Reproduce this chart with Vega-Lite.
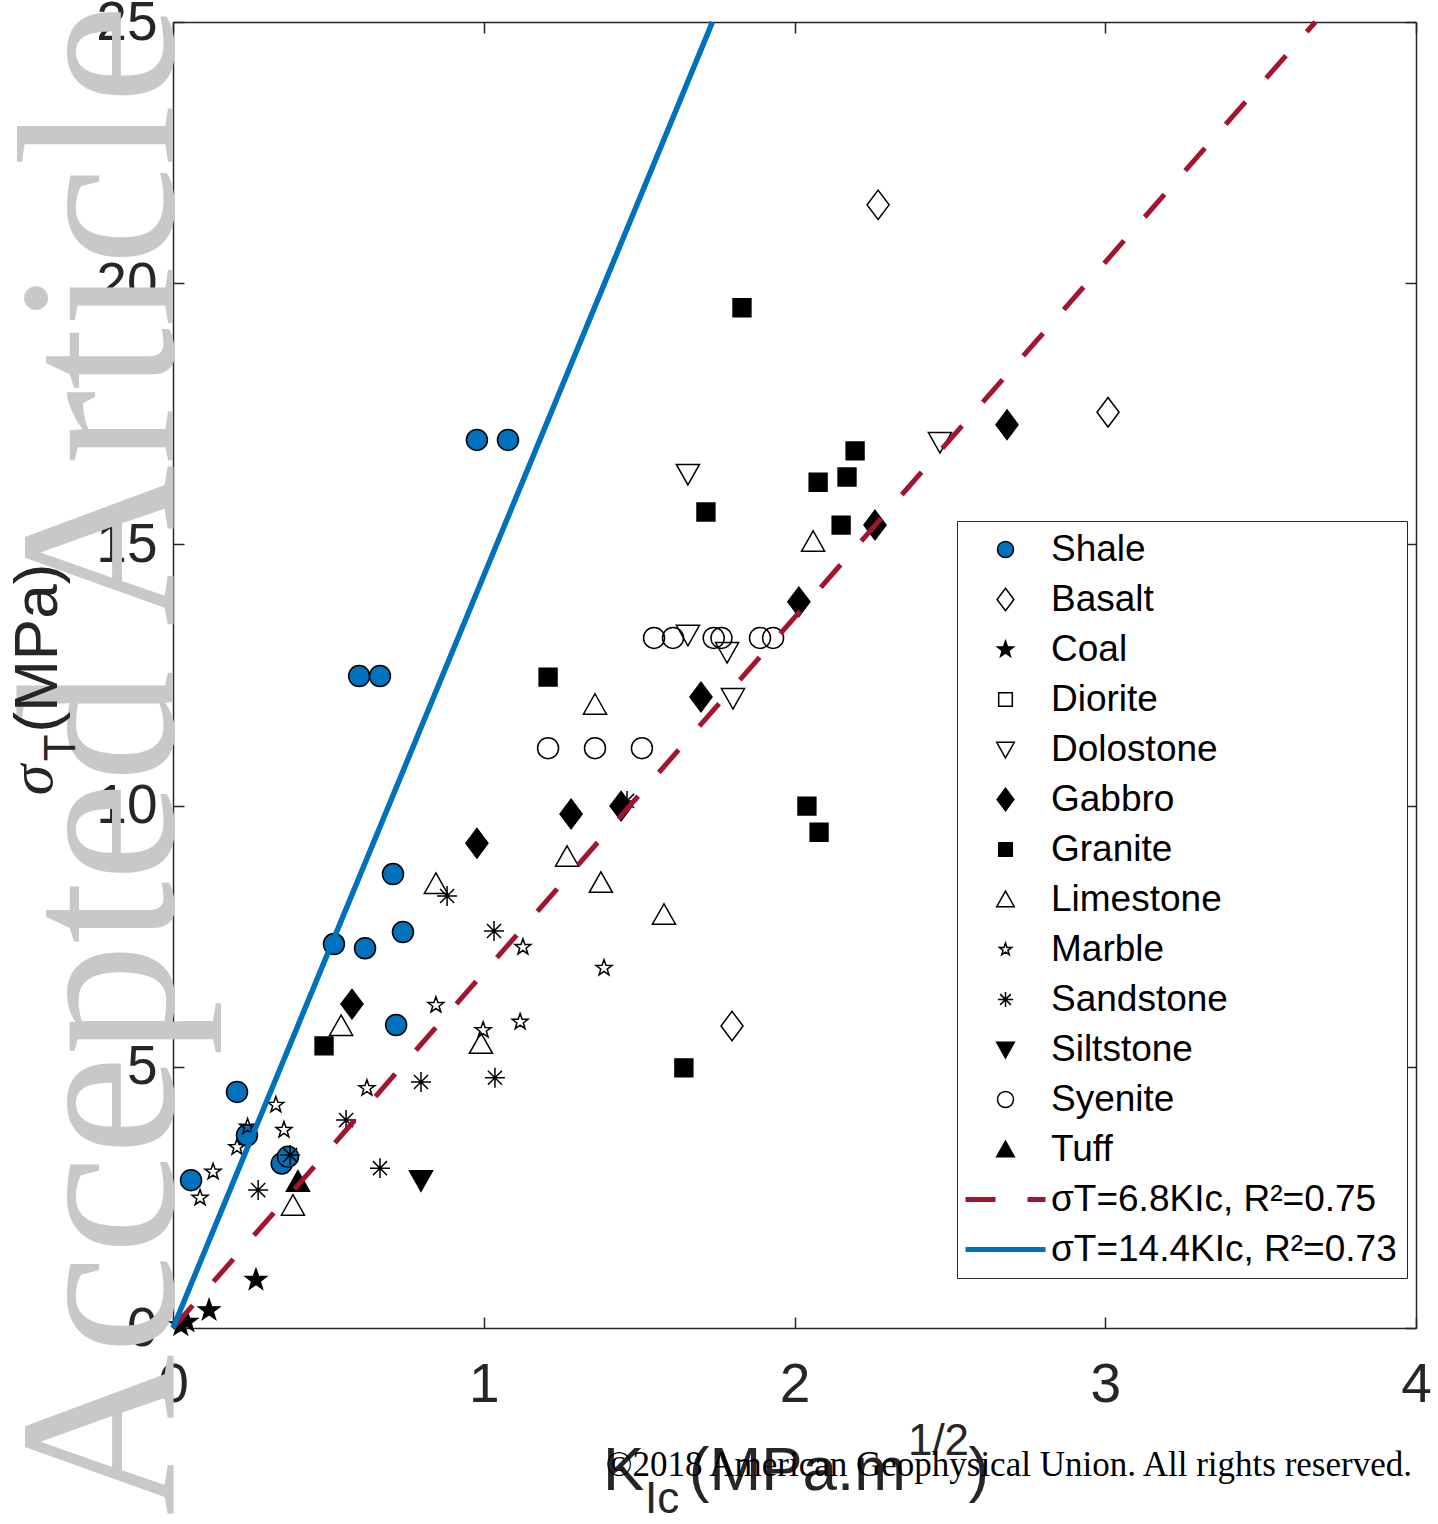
{
  "$schema": "https://vega.github.io/schema/vega-lite/v6.json",
  "width": 1243,
  "height": 1306,
  "autosize": {"type": "none"},
  "padding": {"left": 173, "top": 22, "right": 22, "bottom": 196},
  "background": "white",
  "config": {
    "view": {"stroke": null},
    "axis": {
      "domainColor": "#262626", "domainWidth": 1.5,
      "tickColor": "#262626", "tickWidth": 1.5, "tickSize": -11,
      "grid": false,
      "labelFont": "Liberation Sans", "labelFontSize": 55, "labelColor": "#262626",
      "labelFlush": false, "labelOverlap": false, "labelBound": false
    },
    "axisBottom": {"labelPadding": 41},
    "axisLeft": {"labelPadding": 27},
    "axisTop": {"labels": false},
    "axisRight": {"labels": false}
  },
  "datasets": {
    "pts": [
      {"type": "Shale", "k": 0.978, "s": 17.0},
      {"type": "Shale", "k": 1.078, "s": 17.0},
      {"type": "Shale", "k": 0.599, "s": 12.48},
      {"type": "Shale", "k": 0.666, "s": 12.48},
      {"type": "Shale", "k": 0.708, "s": 8.69},
      {"type": "Shale", "k": 0.518, "s": 7.35},
      {"type": "Shale", "k": 0.618, "s": 7.27},
      {"type": "Shale", "k": 0.740, "s": 7.58},
      {"type": "Shale", "k": 0.718, "s": 5.80},
      {"type": "Shale", "k": 0.206, "s": 4.52},
      {"type": "Shale", "k": 0.238, "s": 3.69},
      {"type": "Shale", "k": 0.350, "s": 3.15},
      {"type": "Shale", "k": 0.370, "s": 3.28},
      {"type": "Shale", "k": 0.058, "s": 2.83},
      {"type": "Basalt", "k": 2.269, "s": 21.50},
      {"type": "Basalt", "k": 3.009, "s": 17.53},
      {"type": "Basalt", "k": 1.799, "s": 5.78},
      {"type": "Coal", "k": 0.267, "s": 0.92},
      {"type": "Coal", "k": 0.116, "s": 0.34},
      {"type": "Coal", "k": 0.045, "s": 0.12},
      {"type": "Coal", "k": 0.025, "s": 0.05},
      {"type": "Dolostone", "k": 1.657, "s": 16.35},
      {"type": "Dolostone", "k": 1.657, "s": 13.27},
      {"type": "Dolostone", "k": 1.783, "s": 12.94},
      {"type": "Dolostone", "k": 1.802, "s": 12.06},
      {"type": "Dolostone", "k": 2.468, "s": 16.96},
      {"type": "Gabbro", "k": 2.684, "s": 17.29},
      {"type": "Gabbro", "k": 2.259, "s": 15.37},
      {"type": "Gabbro", "k": 2.014, "s": 13.90},
      {"type": "Gabbro", "k": 1.699, "s": 12.08},
      {"type": "Gabbro", "k": 1.281, "s": 9.84},
      {"type": "Gabbro", "k": 1.442, "s": 9.99},
      {"type": "Gabbro", "k": 0.978, "s": 9.28},
      {"type": "Gabbro", "k": 0.576, "s": 6.20},
      {"type": "Granite", "k": 1.831, "s": 19.53},
      {"type": "Granite", "k": 2.195, "s": 16.79},
      {"type": "Granite", "k": 2.169, "s": 16.29},
      {"type": "Granite", "k": 2.076, "s": 16.19},
      {"type": "Granite", "k": 2.150, "s": 15.37},
      {"type": "Granite", "k": 1.715, "s": 15.62},
      {"type": "Granite", "k": 1.207, "s": 12.46},
      {"type": "Granite", "k": 2.040, "s": 9.99},
      {"type": "Granite", "k": 2.079, "s": 9.49},
      {"type": "Granite", "k": 1.644, "s": 4.98},
      {"type": "Granite", "k": 0.486, "s": 5.40},
      {"type": "Limestone", "k": 2.060, "s": 15.05},
      {"type": "Limestone", "k": 1.358, "s": 11.93},
      {"type": "Limestone", "k": 1.268, "s": 9.02},
      {"type": "Limestone", "k": 1.377, "s": 8.52},
      {"type": "Limestone", "k": 1.580, "s": 7.91},
      {"type": "Limestone", "k": 0.846, "s": 8.50},
      {"type": "Limestone", "k": 0.541, "s": 5.78},
      {"type": "Limestone", "k": 0.991, "s": 5.44},
      {"type": "Limestone", "k": 0.386, "s": 2.34},
      {"type": "Marble", "k": 1.126, "s": 7.29},
      {"type": "Marble", "k": 1.387, "s": 6.89},
      {"type": "Marble", "k": 0.846, "s": 6.18},
      {"type": "Marble", "k": 0.998, "s": 5.70},
      {"type": "Marble", "k": 1.117, "s": 5.86},
      {"type": "Marble", "k": 0.624, "s": 4.59},
      {"type": "Marble", "k": 0.331, "s": 4.27},
      {"type": "Marble", "k": 0.357, "s": 3.79},
      {"type": "Marble", "k": 0.206, "s": 3.46},
      {"type": "Marble", "k": 0.129, "s": 2.99},
      {"type": "Marble", "k": 0.087, "s": 2.49},
      {"type": "Marble", "k": 0.240, "s": 3.85},
      {"type": "Sandstone", "k": 0.882, "s": 8.27},
      {"type": "Sandstone", "k": 1.033, "s": 7.60},
      {"type": "Sandstone", "k": 1.461, "s": 10.09},
      {"type": "Sandstone", "k": 0.798, "s": 4.71},
      {"type": "Sandstone", "k": 1.036, "s": 4.79},
      {"type": "Sandstone", "k": 0.557, "s": 3.98},
      {"type": "Sandstone", "k": 0.666, "s": 3.06},
      {"type": "Sandstone", "k": 0.274, "s": 2.64},
      {"type": "Sandstone", "k": 0.377, "s": 3.31},
      {"type": "Siltstone", "k": 0.798, "s": 2.83},
      {"type": "Syenite", "k": 1.548, "s": 13.21},
      {"type": "Syenite", "k": 1.609, "s": 13.21},
      {"type": "Syenite", "k": 1.740, "s": 13.21},
      {"type": "Syenite", "k": 1.765, "s": 13.21},
      {"type": "Syenite", "k": 1.889, "s": 13.21},
      {"type": "Syenite", "k": 1.931, "s": 13.21},
      {"type": "Syenite", "k": 1.207, "s": 11.10},
      {"type": "Syenite", "k": 1.358, "s": 11.10},
      {"type": "Syenite", "k": 1.509, "s": 11.10},
      {"type": "Tuff", "k": 0.402, "s": 2.80}
    ],
    "redfit": [{"k": 0, "s": 0}, {"k": 3.676, "s": 25}],
    "bluefit": [{"k": 0, "s": 0}, {"k": 1.736, "s": 25}]
  },
  "layer": [
    {
      "layer": [
        {
          "data": {"values": [{"t": "Accepted Article"}]},
          "mark": {"type": "text", "font": "Liberation Serif", "fontSize": 224, "color": "#C8C8C8", "angle": 270, "align": "center", "baseline": "alphabetic"},
          "encoding": {
            "x": {"datum": 0.0, "type": "quantitative", "scale": {"domain": [0, 4]}, "title": null},
            "y": {"datum": 10.87, "type": "quantitative", "scale": {"domain": [0, 25]}, "title": null},
            "text": {"field": "t"}
          }
        },
        {
          "data": {"name": "pts"},
          "mark": {"type": "point", "size": 441, "strokeWidth": 1.5, "opacity": 1},
          "encoding": {
            "x": {"field": "k", "type": "quantitative", "scale": {"domain": [0, 4]}, "axis": {"values": [0, 1, 2, 3, 4], "format": "d"}, "title": null},
            "y": {"field": "s", "type": "quantitative", "scale": {"domain": [0, 25]}, "axis": {"values": [0, 5, 10, 15, 20, 25], "format": "d"}, "title": null},
            "shape": {
              "field": "type", "type": "nominal",
              "scale": {
                "domain": ["Shale", "Basalt", "Coal", "Diorite", "Dolostone", "Gabbro", "Granite", "Limestone", "Marble", "Sandstone", "Siltstone", "Syenite", "Tuff", "σT=6.8KIc, R²=0.75", "σT=14.4KIc, R²=0.73"],
                "range": [
                  "circle",
                  "M0,-1.4L1.05,0L0,1.4L-1.05,0Z",
                  "M0,-1.05L0.247,-0.34L0.999,-0.324L0.399,0.13L0.617,0.849L0,0.42L-0.617,0.849L-0.399,0.13L-0.999,-0.324L-0.247,-0.34Z",
                  "M-0.85,-0.85H0.85V0.85H-0.85Z",
                  "M0,1.05L1.1,-0.9L-1.1,-0.9Z",
                  "M0,-1.4L1.05,0L0,1.4L-1.05,0Z",
                  "M-0.85,-0.85H0.85V0.85H-0.85Z",
                  "M0,-1.05L1.1,0.9L-1.1,0.9Z",
                  "M0,-0.8L0.188,-0.259L0.761,-0.247L0.304,0.099L0.47,0.647L0,0.32L-0.47,0.647L-0.304,0.099L-0.761,-0.247L-0.188,-0.259Z",
                  "M0,-0.95V0.95M-0.95,0H0.95M-0.67,-0.67L0.67,0.67M-0.67,0.67L0.67,-0.67",
                  "M0,1.05L1.1,-0.9L-1.1,-0.9Z",
                  "circle",
                  "M0,-1.05L1.1,0.9L-1.1,0.9Z",
                  "M-5,-0.3H-1.25V0.3H-5Z M2.75,-0.3H5V0.3H2.75Z",
                  "M-5,-0.3H5V0.3H-5Z"
                ]
              },
              "legend": {"title": null, "orient": "none", "legendX": 784, "legendY": 499, "labelFont": "Liberation Sans", "labelFontSize": 37, "labelColor": "black", "symbolSize": 256, "symbolStrokeWidth": 1.5, "padding": 10, "strokeColor": "#262626", "fillColor": "white", "rowPadding": 12, "labelOffset": 27, "symbolOffset": 20, "labelLimit": 1000}
            },
            "fill": {
              "field": "type", "type": "nominal",
              "scale": {
                "domain": ["Shale", "Basalt", "Coal", "Diorite", "Dolostone", "Gabbro", "Granite", "Limestone", "Marble", "Sandstone", "Siltstone", "Syenite", "Tuff", "σT=6.8KIc, R²=0.75", "σT=14.4KIc, R²=0.73"],
                "range": ["#0072BD", "transparent", "black", "transparent", "transparent", "black", "black", "transparent", "transparent", "transparent", "black", "transparent", "black", "#A2142F", "#0072BD"]
              },
              "legend": {"title": null, "orient": "none", "legendX": 784, "legendY": 499, "labelFont": "Liberation Sans", "labelFontSize": 37, "labelColor": "black", "symbolSize": 256, "symbolStrokeWidth": 1.5, "padding": 10, "strokeColor": "#262626", "fillColor": "white", "rowPadding": 12, "labelOffset": 27, "symbolOffset": 20, "labelLimit": 1000}
            },
            "stroke": {
              "field": "type", "type": "nominal",
              "scale": {
                "domain": ["Shale", "Basalt", "Coal", "Diorite", "Dolostone", "Gabbro", "Granite", "Limestone", "Marble", "Sandstone", "Siltstone", "Syenite", "Tuff", "σT=6.8KIc, R²=0.75", "σT=14.4KIc, R²=0.73"],
                "range": ["black", "black", "black", "black", "black", "black", "black", "black", "black", "black", "black", "black", "black", "transparent", "transparent"]
              },
              "legend": {"title": null, "orient": "none", "legendX": 784, "legendY": 499, "labelFont": "Liberation Sans", "labelFontSize": 37, "labelColor": "black", "symbolSize": 256, "symbolStrokeWidth": 1.5, "padding": 10, "strokeColor": "#262626", "fillColor": "white", "rowPadding": 12, "labelOffset": 27, "symbolOffset": 20, "labelLimit": 1000}
            }
          }
        },
        {
          "data": {"values": [{"t": "K"}]},
          "mark": {"type": "text", "font": "Liberation Sans", "fontSize": 62, "color": "#262626", "align": "left", "baseline": "alphabetic"},
          "encoding": {
            "x": {"datum": 1.384, "type": "quantitative", "scale": {"domain": [0, 4]}, "title": null},
            "y": {"datum": -3.10, "type": "quantitative", "scale": {"domain": [0, 25]}, "title": null},
            "text": {"field": "t"}
          }
        },
        {
          "data": {"values": [{"t": "Ic"}]},
          "mark": {"type": "text", "font": "Liberation Sans", "fontSize": 44, "color": "#262626", "align": "left", "baseline": "alphabetic"},
          "encoding": {
            "x": {"datum": 1.519, "type": "quantitative", "scale": {"domain": [0, 4]}, "title": null},
            "y": {"datum": -3.54, "type": "quantitative", "scale": {"domain": [0, 25]}, "title": null},
            "text": {"field": "t"}
          }
        },
        {
          "data": {"values": [{"t": "(MPa.m"}]},
          "mark": {"type": "text", "font": "Liberation Sans", "fontSize": 62, "color": "#262626", "align": "left", "baseline": "alphabetic"},
          "encoding": {
            "x": {"datum": 1.66, "type": "quantitative", "scale": {"domain": [0, 4]}, "title": null},
            "y": {"datum": -3.10, "type": "quantitative", "scale": {"domain": [0, 25]}, "title": null},
            "text": {"field": "t"}
          }
        },
        {
          "data": {"values": [{"t": "1/2"}]},
          "mark": {"type": "text", "font": "Liberation Sans", "fontSize": 44, "color": "#262626", "align": "left", "baseline": "alphabetic"},
          "encoding": {
            "x": {"datum": 2.365, "type": "quantitative", "scale": {"domain": [0, 4]}, "title": null},
            "y": {"datum": -2.43, "type": "quantitative", "scale": {"domain": [0, 25]}, "title": null},
            "text": {"field": "t"}
          }
        },
        {
          "data": {"values": [{"t": ")"}]},
          "mark": {"type": "text", "font": "Liberation Sans", "fontSize": 62, "color": "#262626", "align": "left", "baseline": "alphabetic"},
          "encoding": {
            "x": {"datum": 2.56, "type": "quantitative", "scale": {"domain": [0, 4]}, "title": null},
            "y": {"datum": -3.10, "type": "quantitative", "scale": {"domain": [0, 25]}, "title": null},
            "text": {"field": "t"}
          }
        },
        {
          "data": {"values": [{"t": "σ"}]},
          "mark": {"type": "text", "font": "Liberation Serif", "fontStyle": "italic", "fontSize": 62, "color": "#262626", "angle": 270, "align": "left", "baseline": "alphabetic"},
          "encoding": {
            "x": {"datum": -0.389, "type": "quantitative", "scale": {"domain": [0, 4]}, "title": null},
            "y": {"datum": 10.20, "type": "quantitative", "scale": {"domain": [0, 25]}, "title": null},
            "text": {"field": "t"}
          }
        },
        {
          "data": {"values": [{"t": "T"}]},
          "mark": {"type": "text", "font": "Liberation Sans", "fontSize": 44, "color": "#262626", "angle": 270, "align": "left", "baseline": "alphabetic"},
          "encoding": {
            "x": {"datum": -0.315, "type": "quantitative", "scale": {"domain": [0, 4]}, "title": null},
            "y": {"datum": 10.85, "type": "quantitative", "scale": {"domain": [0, 25]}, "title": null},
            "text": {"field": "t"}
          }
        },
        {
          "data": {"values": [{"t": "(MPa)"}]},
          "mark": {"type": "text", "font": "Liberation Sans", "fontSize": 62, "color": "#262626", "angle": 270, "align": "left", "baseline": "alphabetic"},
          "encoding": {
            "x": {"datum": -0.373, "type": "quantitative", "scale": {"domain": [0, 4]}, "title": null},
            "y": {"datum": 11.40, "type": "quantitative", "scale": {"domain": [0, 25]}, "title": null},
            "text": {"field": "t"}
          }
        },
        {
          "data": {"values": [{"t": "©2018 American Geophysical Union. All rights reserved."}]},
          "mark": {"type": "text", "font": "Liberation Serif", "fontSize": 35, "color": "black", "align": "right", "baseline": "alphabetic"},
          "encoding": {
            "x": {"datum": 3.987, "type": "quantitative", "scale": {"domain": [0, 4]}, "title": null},
            "y": {"datum": -2.83, "type": "quantitative", "scale": {"domain": [0, 25]}, "title": null},
            "text": {"field": "t"}
          }
        }
      ]
    },
    {
      "layer": [
        {
          "data": {"name": "redfit"},
          "mark": {"type": "line", "color": "#A2142F", "strokeWidth": 5, "strokeDash": [30, 31.5], "strokeCap": "butt"},
          "encoding": {
            "x": {"field": "k", "type": "quantitative", "scale": {"domain": [0, 4]}, "axis": {"orient": "top", "values": [0, 1, 2, 3, 4]}, "title": null},
            "y": {"field": "s", "type": "quantitative", "scale": {"domain": [0, 25]}, "axis": {"orient": "right", "values": [0, 5, 10, 15, 20, 25]}, "title": null}
          }
        },
        {
          "data": {"name": "bluefit"},
          "mark": {"type": "line", "color": "#0072BD", "strokeWidth": 5.5},
          "encoding": {
            "x": {"field": "k", "type": "quantitative", "scale": {"domain": [0, 4]}, "axis": {"orient": "top", "values": [0, 1, 2, 3, 4]}, "title": null},
            "y": {"field": "s", "type": "quantitative", "scale": {"domain": [0, 25]}, "axis": {"orient": "right", "values": [0, 5, 10, 15, 20, 25]}, "title": null}
          }
        }
      ]
    }
  ],
  "resolve": {"axis": {"x": "independent", "y": "independent"}}
}
